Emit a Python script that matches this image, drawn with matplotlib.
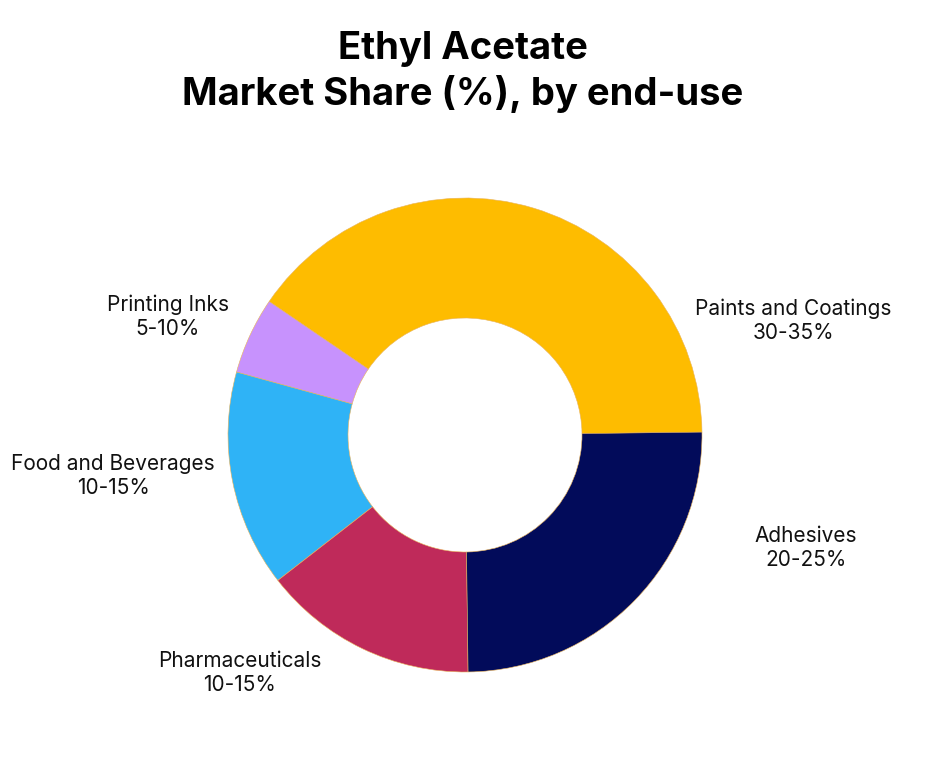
import matplotlib.pyplot as plt

plt.rcParams['font.family'] = ['Inter', 'DejaVu Sans']

segments = ['Paints and Coatings', 'Printing Inks', 'Food and Beverages',
            'Pharmaceuticals', 'Adhesives']
shares = [40.3, 5.25, 14.8, 14.7, 25.0]
ranges = ['30-35%', '5-10%', '10-15%', '10-15%', '20-25%']
colors = ['#FEBC00', '#C792FD', '#2FB3F6', '#BF2A5A', '#020B5A']

# label centres in pixel coords (y from top)
label_pos = [(793, 321), (168, 317), (113, 476), (240, 673), (806, 548)]

W, H = 944, 770
fig = plt.figure(figsize=(W / 100, H / 100), dpi=100)
ax = fig.add_axes([0, 0, 1, 1])

cx, cy = 465, H - 435
r_out = 237
r_in = 117
ax.pie(shares, colors=colors, startangle=0.7, counterclock=True,
       center=(cx, cy), radius=r_out, frame=True,
       wedgeprops=dict(width=r_out - r_in, edgecolor='#E9B35A', linewidth=0.4))
ax.set_xlim(0, W)
ax.set_ylim(0, H)
ax.set_aspect('equal')
ax.axis('off')

for name, rng, (x, y) in zip(segments, ranges, label_pos):
    ax.text(x, H - y, name + '\n' + rng, ha='center', va='center',
            fontsize=15, color='#111111', linespacing=1.22)

ax.text(463, H - 72, 'Ethyl Acetate\nMarket Share (%), by end-use',
        ha='center', va='center', fontsize=27.5, fontweight='bold',
        color='#000000', linespacing=1.25)

fig.savefig('out.png', dpi=100, facecolor='white')
